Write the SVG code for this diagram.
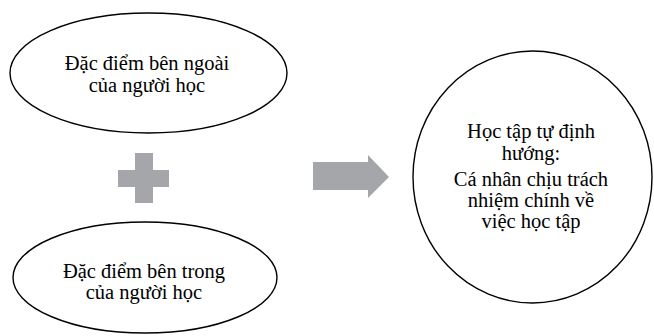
<svg xmlns="http://www.w3.org/2000/svg" width="654" height="336" viewBox="0 0 654 336">
<style>
.shape{fill:#fff;stroke:#000;stroke-width:1.4}
.t{font-family:'Liberation Serif','Times New Roman',serif;font-size:20.5px;fill:#000;text-anchor:middle}
.g{fill:#a5a6aa}
</style>
<rect width="654" height="336" fill="#fff"/>
<g id="outer">
<ellipse class="shape" cx="148.5" cy="73" rx="138.5" ry="60"/>
<text class="t" x="147" y="70">Đặc điểm bên ngoài</text>
<text class="t" x="147" y="92">của người học</text>
</g>
<g id="plus">
<path class="g" d="M135,153 H153 V170 H169 V187 H153 V203 H135 V187 H118 V170 H135 Z"/>
</g>
<g id="inner">
<ellipse class="shape" cx="145" cy="277.5" rx="132" ry="55.5"/>
<text class="t" x="144" y="278">Đặc điểm bên trong</text>
<text class="t" x="144" y="299">của người học</text>
</g>
<g id="connectors">
<path class="g" d="M313,162 H368 V155 L389,177 L368,198 V190 H313 Z"/>
</g>
<g id="result">
<ellipse class="shape" cx="532.5" cy="177" rx="119.5" ry="126"/>
<text class="t" x="531" y="138">Học tập tự định</text>
<text class="t" x="531" y="160">hướng:</text>
<text class="t" x="531" y="186">Cá nhân chịu trách</text>
<text class="t" x="531" y="207">nhiệm chính về</text>
<text class="t" x="531" y="228">việc học tập</text>
</g>
</svg>
